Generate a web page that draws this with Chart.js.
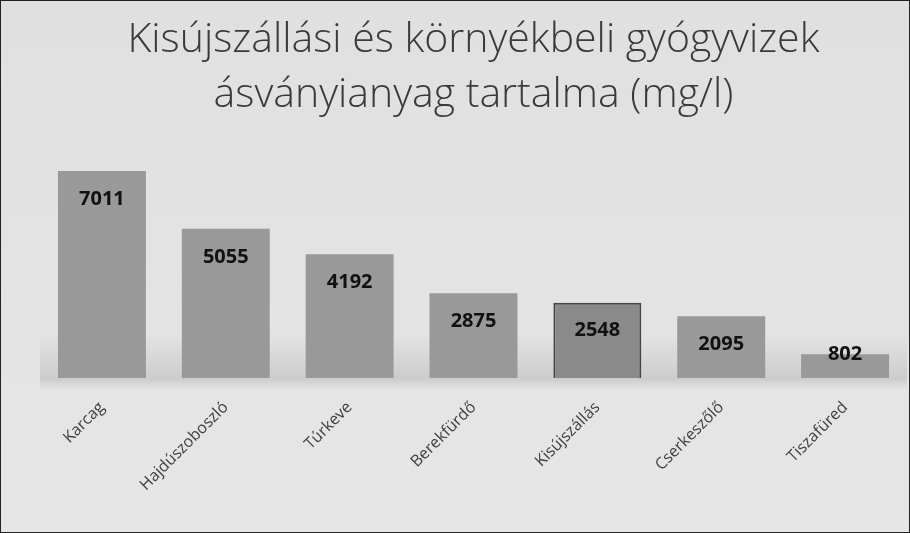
<!DOCTYPE html>
<html>
<head>
<meta charset="utf-8">
<script src="https://cdn.jsdelivr.net/npm/chart.js@4/dist/chart.umd.min.js"></script>
<style>
html,body{margin:0;padding:0;background:#fff;}
#wrap{position:relative;width:908px;height:531px;border:1px solid #222;background:#dedede;}
canvas{display:block;}
</style>
</head>
<body>
<div id="wrap"><canvas id="c" width="908" height="531"></canvas></div>
<script>
const categories = ["Karcag","Hajdúszoboszló","Túrkeve","Berekfürdő","Kisújszállás","Cserkeszőlő","Tiszafüred"];
const values = [7011,5055,4192,2875,2548,2095,802];
const titleLines = ["Kisújszállási és környékbeli gyógyvizek","ásványianyag tartalma (mg/l)"];

const labelPlugin = {
  id:'insideLabels',
  afterDatasetsDraw(chart){
    const ctx = chart.ctx;
    const meta = chart.getDatasetMeta(0);
    ctx.save();
    ctx.font = 'bold 20px "Open Sans", sans-serif';
    ctx.fillStyle = '#111';
    ctx.textAlign = 'center';
    ctx.textBaseline = 'middle';
    meta.data.forEach((bar,i)=>{
      const y = Math.min(bar.y + 28, bar.base - 24);
      ctx.fillText(String(chart.data.datasets[0].data[i]), bar.x, y);
    });
    ctx.restore();
  }
};
const bgPlugin = {
  id:'bg',
  beforeDraw(chart){
    const {ctx,width,height} = chart;
    ctx.save();
    const g = ctx.createLinearGradient(0,0,0,height);
    g.addColorStop(0,'#e0e0e0');
    g.addColorStop(1,'#e6e6e6');
    ctx.fillStyle = g;
    ctx.fillRect(0,0,width,height);
    const b = chart.chartArea.bottom;
    const s = ctx.createLinearGradient(0,b-45,0,b+12);
    s.addColorStop(0,'rgba(160,160,160,0)');
    s.addColorStop(0.8,'rgba(160,160,160,0.35)');
    s.addColorStop(1,'rgba(160,160,160,0)');
    ctx.fillStyle = s;
    ctx.fillRect(chart.chartArea.left,b-45,chart.chartArea.right-chart.chartArea.left,57);
    ctx.restore();
  }
};

new Chart(document.getElementById('c'),{
  type:'bar',
  data:{labels:categories,datasets:[{data:values,
    backgroundColor:['#999','#999','#999','#999','#8a8a8a','#999','#999'],
    borderColor:['#999','#999','#999','#999','#444','#999','#999'],
    borderWidth:[0,0,0,0,2,0,0],
    categoryPercentage:0.71,barPercentage:1}]},
  options:{
    responsive:false,animation:false,
    layout:{padding:{left:39,right:2,top:0,bottom:0}},
    plugins:{
      legend:{display:false},tooltip:{enabled:false},
      title:{display:true,text:titleLines,color:'#3a3a3a',font:{family:'"Open Sans", sans-serif',size:41,weight:'300',lineHeight:1.34},padding:{top:12,bottom:19}}
    },
    scales:{
      x:{grid:{display:false},border:{display:false},
        ticks:{color:'#404040',font:{family:'"Open Sans", sans-serif',size:16},minRotation:45,maxRotation:45,padding:12},
        afterFit(scale){scale.height = 154;}},
      y:{display:false,min:0,max:8000}
    }
  },
  plugins:[bgPlugin,labelPlugin]
});
</script>
</body>
</html>
